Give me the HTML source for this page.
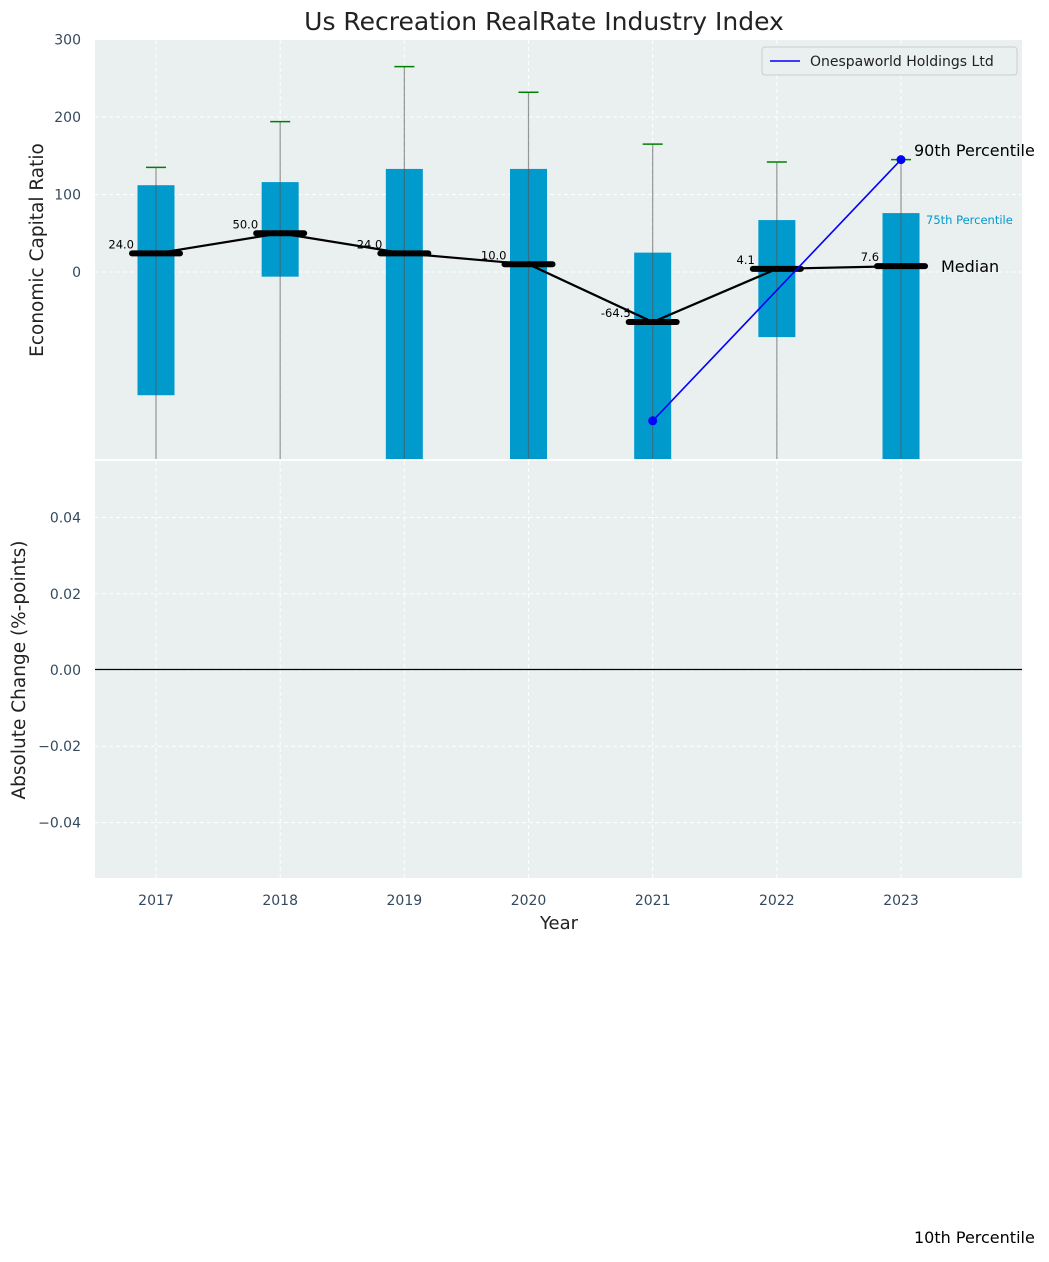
<!DOCTYPE html>
<html><head><meta charset="utf-8"><style>
body{margin:0;background:#fff;font-family:"Liberation Sans","DejaVu Sans",sans-serif}
</style></head><body>
<svg id="c" width="1049" height="1257" xmlns="http://www.w3.org/2000/svg" font-family="DejaVu Sans, Liberation Sans, sans-serif"></svg>
<script>
const years=[2017,2018,2019,2020,2021,2022,2023];
const q75=[112,116,133,133,25,67,76];
const q25=[-159,-6,-300,-300,-300,-84,-300];
const p90=[135,194,265,232,165,142,145];
const medians=[24.0,50.0,24.0,10.0,-64.5,4.1,7.6];
const companyYears=[2021,2023];
const companyVals=[-192,145];
const yTicks=[0,100,200,300];
const y2Ticks=[-0.04,-0.02,0,0.02,0.04];
const svg=document.getElementById('c');
const NS='http://www.w3.org/2000/svg';
function el(t,a,txt){const e=document.createElementNS(NS,t);for(const k in a)e.setAttribute(k,a[k]);if(txt!==undefined)e.textContent=txt;svg.appendChild(e);return e;}
const X=v=>156+(v-2017)*124.17;
const Y=v=>272-v*0.775;
const Y2=v=>670-v*3812;
const L=95,R=1022,T1=40,B1=459,T2=461,B2=878;
let e;
e=el('rect',{x:L,y:T1,width:R-L,height:B1-T1,fill:'#eaeff0'});
e=el('rect',{x:L,y:T2,width:R-L,height:B2-T2,fill:'#eaeff0'});
yTicks.forEach(t=>{e=el('line',{x1:L,x2:R,y1:Y(t),y2:Y(t),stroke:'#fff','stroke-dasharray':'4,3'});
e=el('text',{x:81,y:Y(t)+5,'text-anchor':'end','font-size':14,fill:'#34495e'},t);});
y2Ticks.forEach(t=>{e=el('line',{x1:L,x2:R,y1:Y2(t),y2:Y2(t),stroke:'#fff','stroke-dasharray':'4,3'});
e=el('text',{x:81,y:Y2(t)+5,'text-anchor':'end','font-size':14,fill:'#34495e'},(t<0?'\u2212':'')+Math.abs(t).toFixed(2));});
years.forEach(y=>{[[T1,B1],[T2,B2]].forEach(p=>{e=el('line',{x1:X(y),x2:X(y),y1:p[0],y2:p[1],stroke:'#fff','stroke-dasharray':'4,3'});});
e=el('text',{x:X(y),y:905,'text-anchor':'middle','font-size':14,fill:'#34495e'},y);});
years.forEach((y,i)=>{
 const top=Math.min(Y(q75[i]),B1),bot=Math.min(Y(q25[i]),B1);
 e=el('rect',{x:X(y)-18.5,y:top,width:37,height:bot-top,fill:'#009acd'});
 e=el('line',{x1:X(y),x2:X(y),y1:Y(p90[i]),y2:B1,stroke:'#555','stroke-opacity':0.6,'stroke-width':1.2});
 e=el('line',{x1:X(y)-10,x2:X(y)+10,y1:Y(p90[i]),y2:Y(p90[i]),stroke:'#008000','stroke-width':1.5});
});
e=el('polyline',{points:years.map((y,i)=>X(y)+','+Y(medians[i])).join(' '),fill:'none',stroke:'#000','stroke-width':2.2});
years.forEach((y,i)=>{e=el('line',{x1:X(y)-24,x2:X(y)+24,y1:Y(medians[i]),y2:Y(medians[i]),stroke:'#000','stroke-width':6,'stroke-linecap':'round'});
e=el('text',{x:X(y)-22,y:Y(medians[i])-5,'text-anchor':'end','font-size':11.5,fill:'#000'},medians[i].toFixed(1));});
e=el('polyline',{points:companyYears.map((y,i)=>X(y)+','+Y(companyVals[i])).join(' '),fill:'none',stroke:'#0000ff','stroke-width':1.6});
companyYears.forEach((y,i)=>{e=el('circle',{cx:X(y),cy:Y(companyVals[i]),r:4.5,fill:'#0000ff'});});
e=el('line',{x1:L,x2:R,y1:Y2(0)-0.5,y2:Y2(0)-0.5,stroke:'#000','stroke-width':1.2});
e=el('line',{x1:L,x2:R,y1:460,y2:460,stroke:'#fff','stroke-width':2});
e=el('text',{x:914,y:156,'font-size':16,fill:'#000'},'90th Percentile');
e=el('text',{x:926,y:224,'font-size':11.5,fill:'#009acd'},'75th Percentile');
e=el('text',{x:941,y:272,'font-size':16,fill:'#000'},'Median');
e=el('text',{x:914,y:1243,'font-size':16,fill:'#000'},'10th Percentile');
e=el('text',{x:544,y:30,'text-anchor':'middle','font-size':25,fill:'#222'},'Us Recreation RealRate Industry Index');
e=el('text',{x:559,y:929,'text-anchor':'middle','font-size':18,fill:'#222'},'Year');
e=el('text',{x:0,y:0,'text-anchor':'middle','font-size':18.5,fill:'#222',transform:'translate(43,250) rotate(-90)'},'Economic Capital Ratio');
e=el('text',{x:0,y:0,'text-anchor':'middle','font-size':18.5,fill:'#222',transform:'translate(25,670) rotate(-90)'},'Absolute Change (%-points)');
e=el('rect',{x:762,y:47,width:255,height:28,rx:3,fill:'#eaeff0',stroke:'#ccc'});
e=el('line',{x1:770,x2:800,y1:61,y2:61,stroke:'#0000ff','stroke-width':1.6});
e=el('text',{x:810,y:66,'font-size':14,fill:'#222'},'Onespaworld Holdings Ltd');
</script>
</body></html>
